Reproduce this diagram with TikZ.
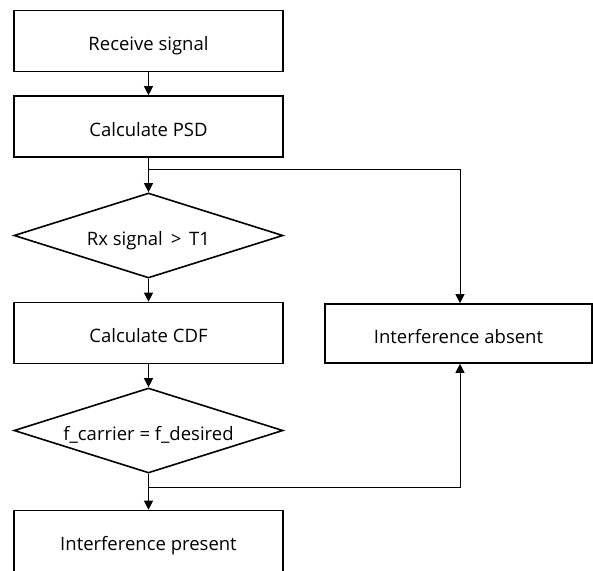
\documentclass[tikz,border=0pt]{standalone}
\usepackage{fontspec}
\setmainfont{Open Sans}
\usetikzlibrary{shapes.geometric,arrows.meta}
\begin{document}
\begin{tikzpicture}[x=1pt,y=-1pt,
  txt/.style={font=\fontsize{18.5}{22}\selectfont,text height=19pt,text depth=0pt},
  box/.style={draw,line width=1.6pt,minimum width=269pt,minimum height=61pt,inner sep=0pt,txt},
  dia/.style={draw,diamond,line width=1.6pt,minimum width=269pt,minimum height=85pt,inner sep=0pt,aspect=3.16,txt},
  conn/.style={line width=0.9pt},
  arr/.style={conn,-{Triangle[width=9pt,length=9pt]}}]
\useasboundingbox (0,0) rectangle (593,570);
\clip (0,0) rectangle (593,570);
\node[box] (rx) at (148.5,41) {Receive signal};
\node[box] (psd) at (148.5,126.5) {Calculate PSD};
\node[dia] (d1) at (148.5,235.5) {Rx signal \,>\, T1};
\node[box] (cdf) at (148.5,333) {Calculate CDF};
\node[dia] (d2) at (148.5,430.5) {f\_carrier = f\_desired};
\node[box,minimum height=61pt] (pres) at (148.5,541) {Interference present};
\node[box,minimum width=267pt,minimum height=59pt] (abs) at (458.5,333.5) {Interference absent};
\coordinate (j1) at (148.5,169);
\coordinate (j2) at (148.5,487);
\draw[arr] (rx) -- (psd);
\draw[arr] (psd) -- (d1);
\draw[arr] (j1) -| ([xshift=1.5pt]abs.north);
\draw[arr] (d1) -- (cdf);
\draw[arr] (cdf) -- (d2);
\draw[arr] (d2) -- (pres);
\draw[arr] (j2) -| ([xshift=1.5pt]abs.south);
\end{tikzpicture}
\end{document}
